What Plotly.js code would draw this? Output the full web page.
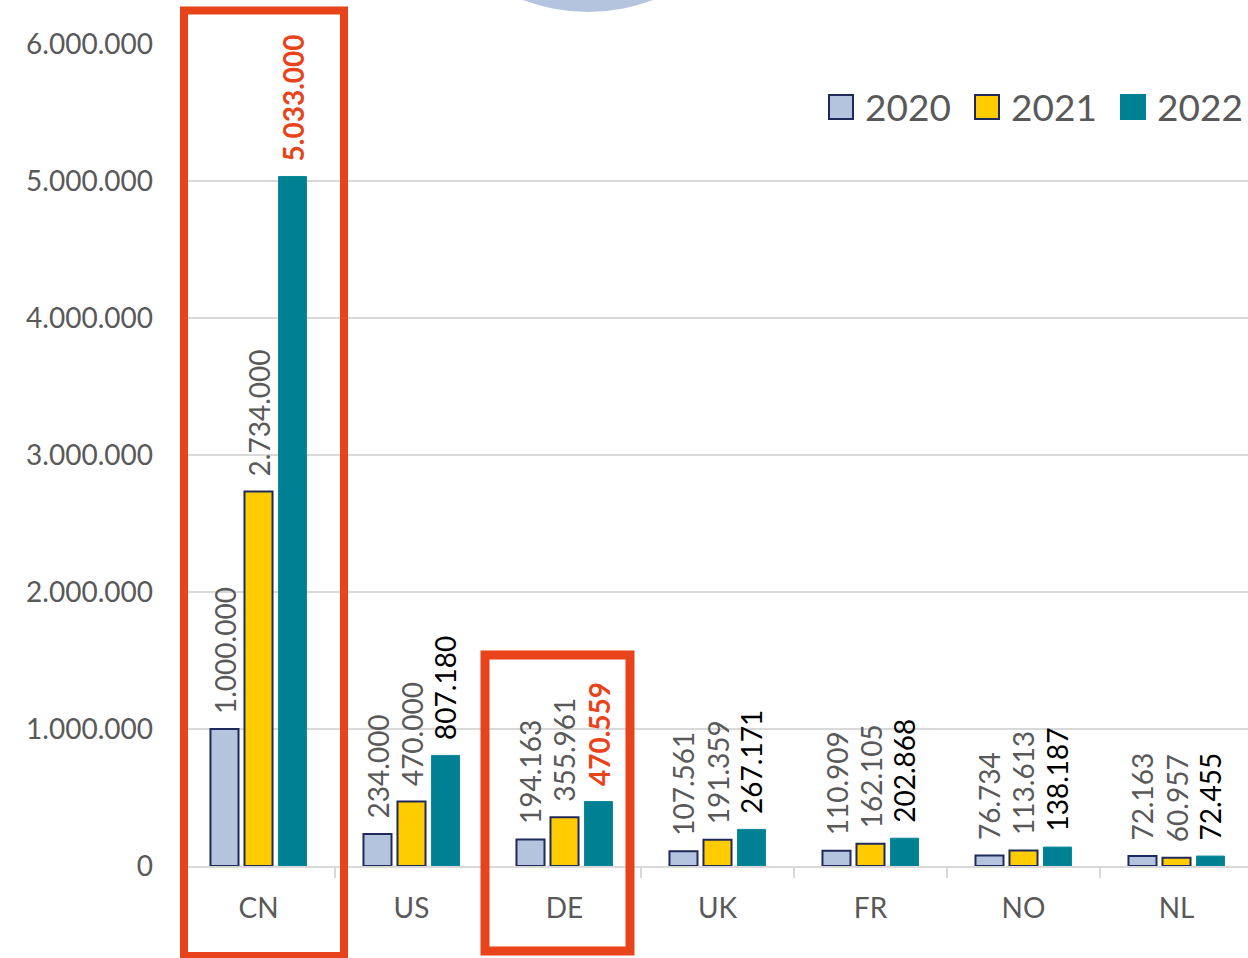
<!DOCTYPE html>
<html>
<head>
<meta charset="utf-8">
<script src="https://cdn.plot.ly/plotly-3.0.1.min.js"></script>
<style>
html,body{margin:0;padding:0;background:#fff;}
#chart{width:1248px;height:958px;}
</style>
</head>
<body>
<div id="chart"></div>
<script>
// ---- Data ----
const categories = ['CN', 'US', 'DE', 'UK', 'FR', 'NO', 'NL'];
const seriesNames = ['2020', '2021', '2022'];
const v2020 = [1000000, 234000, 194163, 107561, 110909, 76734, 72163];
const v2021 = [2734000, 470000, 355961, 191359, 162105, 113613, 60957];
const v2022 = [5033000, 807180, 470559, 267171, 202868, 138187, 72455];
const highlighted2022 = ['CN', 'DE'];
const yTickVals = [0, 1000000, 2000000, 3000000, 4000000, 5000000, 6000000];

// ---- Styles ----
const FONT = 'Lato, "Open Sans", sans-serif';
const GRAY = '#595959';
const RED = '#e8431a';
const NAVY = '#1f2a5c';
const styles = [
  {fill: '#b4c4de', line: NAVY, lw: 2, label: GRAY},
  {fill: '#ffcc00', line: NAVY, lw: 2, label: GRAY},
  {fill: '#008093', line: '#0a8a98', lw: 1, label: '#000000'}
];
const values = [v2020, v2021, v2022];

// plot area in pixels
const W = 1248, H = 958;
const PL = 182, PT = 44, PB = 866;
const PW = W - PL, PH = PB - PT;
const px = x => (x - PL) / PW;
const py = y => (PB - y) / PH;

function fmt(v) {
  return String(v).replace(/\B(?=(\d{3})+(?!\d))/g, '.');
}

const traces = values.map((vals, i) => ({
  type: 'bar',
  name: seriesNames[i],
  x: categories,
  y: vals,
  marker: {color: styles[i].fill, line: {color: styles[i].line, width: styles[i].lw}},
  showlegend: false,
  hoverinfo: 'skip'
}));

const SLOT = 34;
const annotations = [];
values.forEach((vals, i) => {
  vals.forEach((v, j) => {
    const hl = i === 2 && highlighted2022.includes(categories[j]);
    annotations.push({
      x: categories[j], y: v, xref: 'x', yref: 'y',
      xshift: (i - 1) * SLOT, yshift: 13,
      text: hl ? '<b>' + fmt(v) + '</b>' : fmt(v),
      textangle: -90, showarrow: false,
      xanchor: 'center', yanchor: 'bottom',
      font: {family: FONT, size: 28, color: hl ? RED : styles[i].label}
    });
  });
});

// custom legend
const legendBoxes = [829, 975, 1121];
const shapes = [];
seriesNames.forEach((name, i) => {
  const x0 = legendBoxes[i];
  shapes.push({
    type: 'rect', xref: 'paper', yref: 'paper',
    x0: px(x0), x1: px(x0 + 24), y0: py(119), y1: py(95),
    fillcolor: styles[i].fill,
    line: {color: i === 2 ? styles[i].fill : NAVY, width: 2}
  });
  annotations.push({
    xref: 'paper', yref: 'paper', x: px(x0 + 34), y: py(106),
    xanchor: 'left', yanchor: 'middle', showarrow: false,
    text: name, font: {family: FONT, size: 37, color: GRAY}
  });
});

// decorative circle at top
shapes.push({
  type: 'circle', xref: 'paper', yref: 'paper', layer: 'below',
  x0: px(406), x1: px(770), y0: py(12), y1: py(-352),
  fillcolor: '#b4c4de', line: {width: 0}
});
// red highlight boxes
shapes.push({
  type: 'rect', xref: 'paper', yref: 'paper',
  x0: px(184), x1: px(344), y0: py(956), y1: py(10.5),
  line: {color: RED, width: 8}
});
shapes.push({
  type: 'rect', xref: 'paper', yref: 'paper',
  x0: px(485), x1: px(630), y0: py(951), y1: py(655),
  line: {color: RED, width: 9}
});

const layout = {
  width: W, height: H,
  margin: {l: PL, r: 0, t: PT, b: H - PB, pad: 0},
  paper_bgcolor: '#ffffff', plot_bgcolor: 'rgba(0,0,0,0)',
  separators: ',.',
  barmode: 'group', bargap: 0.333, bargroupgap: 0.176,
  showlegend: false,
  hovermode: false,
  xaxis: {
    type: 'category',
    range: [-0.5, -0.5 + PW / 153],
    showgrid: false, zeroline: false,
    showline: true, linecolor: '#d9d9d9', linewidth: 2,
    ticks: 'outside', tickson: 'boundaries', ticklen: 10, tickwidth: 2, tickcolor: '#d9d9d9',
    ticklabelstandoff: 16,
    tickfont: {family: FONT, size: 28, color: GRAY},
    fixedrange: true
  },
  yaxis: {
    range: [0, 6000000],
    tickvals: yTickVals,
    tickformat: ',d',
    showgrid: true, gridcolor: '#d9d9d9', gridwidth: 2,
    zeroline: false, showline: false, ticks: '',
    ticklabelstandoff: 28,
    tickfont: {family: FONT, size: 28, color: GRAY},
    fixedrange: true
  },
  font: {family: FONT},
  annotations: annotations,
  shapes: shapes
};

Plotly.newPlot('chart', traces, layout, {displayModeBar: false, staticPlot: true});
</script>
</body>
</html>
